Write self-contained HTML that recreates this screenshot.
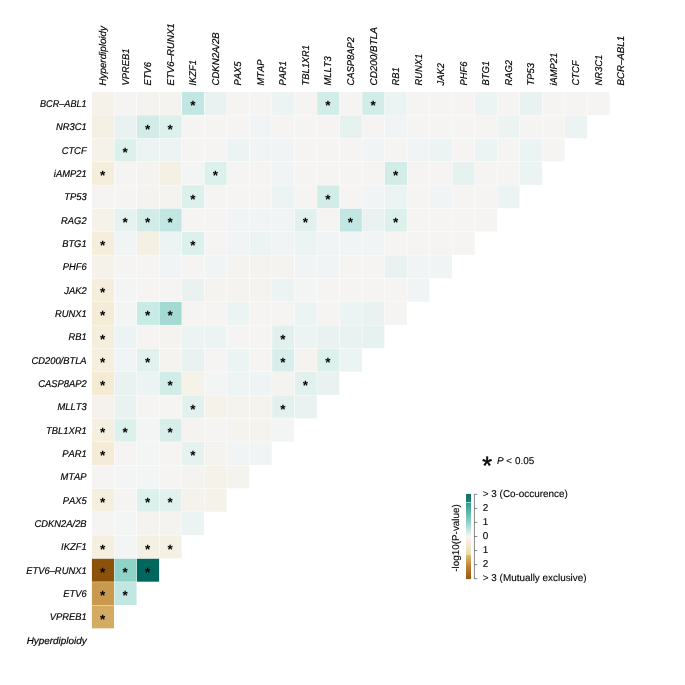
<!DOCTYPE html>
<html lang="en"><head><meta charset="utf-8"><title>Co-occurrence heatmap</title>
<style>html,body{margin:0;padding:0;background:#fff}svg{display:block}text{font-family:"Liberation Sans",Arial,Helvetica,sans-serif;fill:#000;text-rendering:geometricPrecision;font-kerning:none}.g{font-style:italic;font-size:9.8px;stroke:#000;stroke-width:.18px}.s{font-weight:bold;font-size:13.5px;text-anchor:middle}.ls{font-size:25px;text-anchor:middle;stroke:#000;stroke-width:.5px}.l{font-size:9.92px;stroke:#000;stroke-width:.12px}.tx{filter:grayscale(1)}</style></head><body>
<svg width="685" height="685" viewBox="0 0 685 685">
<rect width="685" height="685" fill="#fff"/>
<g>
<rect x="91.91" y="91.96" width="22.11" height="22.92" fill="#f5f2ea"/>
<rect x="114.44" y="91.96" width="22.11" height="22.92" fill="#f5f4f3"/>
<rect x="136.97" y="91.96" width="22.11" height="22.92" fill="#f5f3ef"/>
<rect x="159.50" y="91.96" width="22.11" height="22.92" fill="#f5f3ef"/>
<rect x="182.03" y="91.96" width="22.11" height="22.92" fill="#c2e7e2"/>
<rect x="204.56" y="91.96" width="22.11" height="22.92" fill="#e9f2f1"/>
<rect x="227.09" y="91.96" width="22.11" height="22.92" fill="#f5f4f3"/>
<rect x="249.62" y="91.96" width="22.11" height="22.92" fill="#f5f4f3"/>
<rect x="272.15" y="91.96" width="22.11" height="22.92" fill="#ecf3f3"/>
<rect x="294.68" y="91.96" width="22.11" height="22.92" fill="#f5f4f3"/>
<rect x="317.21" y="91.96" width="22.11" height="22.92" fill="#d2ece8"/>
<rect x="339.74" y="91.96" width="22.11" height="22.92" fill="#f5f4f3"/>
<rect x="362.27" y="91.96" width="22.11" height="22.92" fill="#d2ece8"/>
<rect x="384.80" y="91.96" width="22.11" height="22.92" fill="#ecf3f3"/>
<rect x="407.33" y="91.96" width="22.11" height="22.92" fill="#f5f4f3"/>
<rect x="429.86" y="91.96" width="22.11" height="22.92" fill="#f5f4f3"/>
<rect x="452.39" y="91.96" width="22.11" height="22.92" fill="#f5f4f3"/>
<rect x="474.92" y="91.96" width="22.11" height="22.92" fill="#ecf3f3"/>
<rect x="497.45" y="91.96" width="22.11" height="22.92" fill="#f5f4f3"/>
<rect x="519.98" y="91.96" width="22.11" height="22.92" fill="#e9f2f1"/>
<rect x="542.51" y="91.96" width="22.11" height="22.92" fill="#f5f4f3"/>
<rect x="565.04" y="91.96" width="22.11" height="22.92" fill="#f5f4f3"/>
<rect x="587.57" y="91.96" width="22.11" height="22.92" fill="#f5f4f3"/>
<rect x="91.91" y="115.30" width="22.11" height="22.92" fill="#f5f0e4"/>
<rect x="114.44" y="115.30" width="22.11" height="22.92" fill="#e9f2f1"/>
<rect x="136.97" y="115.30" width="22.11" height="22.92" fill="#d2ece8"/>
<rect x="159.50" y="115.30" width="22.11" height="22.92" fill="#dcf0ec"/>
<rect x="182.03" y="115.30" width="22.11" height="22.92" fill="#f5f4f3"/>
<rect x="204.56" y="115.30" width="22.11" height="22.92" fill="#f5f4f3"/>
<rect x="227.09" y="115.30" width="22.11" height="22.92" fill="#f5f4f3"/>
<rect x="249.62" y="115.30" width="22.11" height="22.92" fill="#f1f4f4"/>
<rect x="272.15" y="115.30" width="22.11" height="22.92" fill="#f5f4f3"/>
<rect x="294.68" y="115.30" width="22.11" height="22.92" fill="#f5f4f3"/>
<rect x="317.21" y="115.30" width="22.11" height="22.92" fill="#f5f4f3"/>
<rect x="339.74" y="115.30" width="22.11" height="22.92" fill="#e6f2f0"/>
<rect x="362.27" y="115.30" width="22.11" height="22.92" fill="#f5f4f3"/>
<rect x="384.80" y="115.30" width="22.11" height="22.92" fill="#f1f4f4"/>
<rect x="407.33" y="115.30" width="22.11" height="22.92" fill="#f5f4f3"/>
<rect x="429.86" y="115.30" width="22.11" height="22.92" fill="#f5f4f3"/>
<rect x="452.39" y="115.30" width="22.11" height="22.92" fill="#f5f4f3"/>
<rect x="474.92" y="115.30" width="22.11" height="22.92" fill="#f5f4f3"/>
<rect x="497.45" y="115.30" width="22.11" height="22.92" fill="#ecf3f3"/>
<rect x="519.98" y="115.30" width="22.11" height="22.92" fill="#f5f4f3"/>
<rect x="542.51" y="115.30" width="22.11" height="22.92" fill="#f5f4f3"/>
<rect x="565.04" y="115.30" width="22.11" height="22.92" fill="#ecf3f3"/>
<rect x="91.91" y="138.64" width="22.11" height="22.92" fill="#f5f2ea"/>
<rect x="114.44" y="138.64" width="22.11" height="22.92" fill="#dcf0ec"/>
<rect x="136.97" y="138.64" width="22.11" height="22.92" fill="#ecf3f3"/>
<rect x="159.50" y="138.64" width="22.11" height="22.92" fill="#ecf3f3"/>
<rect x="182.03" y="138.64" width="22.11" height="22.92" fill="#f5f4f3"/>
<rect x="204.56" y="138.64" width="22.11" height="22.92" fill="#f5f4f3"/>
<rect x="227.09" y="138.64" width="22.11" height="22.92" fill="#ecf3f3"/>
<rect x="249.62" y="138.64" width="22.11" height="22.92" fill="#f1f4f4"/>
<rect x="272.15" y="138.64" width="22.11" height="22.92" fill="#f1f4f4"/>
<rect x="294.68" y="138.64" width="22.11" height="22.92" fill="#f5f4f3"/>
<rect x="317.21" y="138.64" width="22.11" height="22.92" fill="#f5f4f3"/>
<rect x="339.74" y="138.64" width="22.11" height="22.92" fill="#f5f4f3"/>
<rect x="362.27" y="138.64" width="22.11" height="22.92" fill="#f1f4f4"/>
<rect x="384.80" y="138.64" width="22.11" height="22.92" fill="#f5f4f3"/>
<rect x="407.33" y="138.64" width="22.11" height="22.92" fill="#f1f4f4"/>
<rect x="429.86" y="138.64" width="22.11" height="22.92" fill="#ecf3f3"/>
<rect x="452.39" y="138.64" width="22.11" height="22.92" fill="#f5f4f3"/>
<rect x="474.92" y="138.64" width="22.11" height="22.92" fill="#ecf3f3"/>
<rect x="497.45" y="138.64" width="22.11" height="22.92" fill="#f5f4f3"/>
<rect x="519.98" y="138.64" width="22.11" height="22.92" fill="#ecf3f3"/>
<rect x="542.51" y="138.64" width="22.11" height="22.92" fill="#f5f4f3"/>
<rect x="91.91" y="161.98" width="22.11" height="22.92" fill="#f5eedc"/>
<rect x="114.44" y="161.98" width="22.11" height="22.92" fill="#f5f4f3"/>
<rect x="136.97" y="161.98" width="22.11" height="22.92" fill="#f5f3ef"/>
<rect x="159.50" y="161.98" width="22.11" height="22.92" fill="#f5f0e4"/>
<rect x="182.03" y="161.98" width="22.11" height="22.92" fill="#f3f5f4"/>
<rect x="204.56" y="161.98" width="22.11" height="22.92" fill="#dcf0ec"/>
<rect x="227.09" y="161.98" width="22.11" height="22.92" fill="#f5f4f3"/>
<rect x="249.62" y="161.98" width="22.11" height="22.92" fill="#f5f4f3"/>
<rect x="272.15" y="161.98" width="22.11" height="22.92" fill="#f1f4f4"/>
<rect x="294.68" y="161.98" width="22.11" height="22.92" fill="#f5f4f3"/>
<rect x="317.21" y="161.98" width="22.11" height="22.92" fill="#f5f4f3"/>
<rect x="339.74" y="161.98" width="22.11" height="22.92" fill="#f5f4f3"/>
<rect x="362.27" y="161.98" width="22.11" height="22.92" fill="#f5f4f3"/>
<rect x="384.80" y="161.98" width="22.11" height="22.92" fill="#d2ece8"/>
<rect x="407.33" y="161.98" width="22.11" height="22.92" fill="#f5f4f3"/>
<rect x="429.86" y="161.98" width="22.11" height="22.92" fill="#f5f4f3"/>
<rect x="452.39" y="161.98" width="22.11" height="22.92" fill="#e6f2f0"/>
<rect x="474.92" y="161.98" width="22.11" height="22.92" fill="#f5f4f3"/>
<rect x="497.45" y="161.98" width="22.11" height="22.92" fill="#f5f4f3"/>
<rect x="519.98" y="161.98" width="22.11" height="22.92" fill="#ecf3f3"/>
<rect x="91.91" y="185.32" width="22.11" height="22.92" fill="#f5f4f3"/>
<rect x="114.44" y="185.32" width="22.11" height="22.92" fill="#f5f4f3"/>
<rect x="136.97" y="185.32" width="22.11" height="22.92" fill="#f5f3ef"/>
<rect x="159.50" y="185.32" width="22.11" height="22.92" fill="#f5f3ef"/>
<rect x="182.03" y="185.32" width="22.11" height="22.92" fill="#dcf0ec"/>
<rect x="204.56" y="185.32" width="22.11" height="22.92" fill="#f5f4f3"/>
<rect x="227.09" y="185.32" width="22.11" height="22.92" fill="#f5f4f3"/>
<rect x="249.62" y="185.32" width="22.11" height="22.92" fill="#f5f4f3"/>
<rect x="272.15" y="185.32" width="22.11" height="22.92" fill="#ecf3f3"/>
<rect x="294.68" y="185.32" width="22.11" height="22.92" fill="#f5f4f3"/>
<rect x="317.21" y="185.32" width="22.11" height="22.92" fill="#d2ece8"/>
<rect x="339.74" y="185.32" width="22.11" height="22.92" fill="#f5f4f3"/>
<rect x="362.27" y="185.32" width="22.11" height="22.92" fill="#f1f4f4"/>
<rect x="384.80" y="185.32" width="22.11" height="22.92" fill="#ecf3f3"/>
<rect x="407.33" y="185.32" width="22.11" height="22.92" fill="#f5f4f3"/>
<rect x="429.86" y="185.32" width="22.11" height="22.92" fill="#f1f4f4"/>
<rect x="452.39" y="185.32" width="22.11" height="22.92" fill="#f5f4f3"/>
<rect x="474.92" y="185.32" width="22.11" height="22.92" fill="#f5f4f3"/>
<rect x="497.45" y="185.32" width="22.11" height="22.92" fill="#ecf3f3"/>
<rect x="91.91" y="208.66" width="22.11" height="22.92" fill="#f5f2ea"/>
<rect x="114.44" y="208.66" width="22.11" height="22.92" fill="#e6f2f0"/>
<rect x="136.97" y="208.66" width="22.11" height="22.92" fill="#d2ece8"/>
<rect x="159.50" y="208.66" width="22.11" height="22.92" fill="#c2e7e2"/>
<rect x="182.03" y="208.66" width="22.11" height="22.92" fill="#f5f4f3"/>
<rect x="204.56" y="208.66" width="22.11" height="22.92" fill="#f5f4f3"/>
<rect x="227.09" y="208.66" width="22.11" height="22.92" fill="#f1f4f4"/>
<rect x="249.62" y="208.66" width="22.11" height="22.92" fill="#f1f4f4"/>
<rect x="272.15" y="208.66" width="22.11" height="22.92" fill="#f1f4f4"/>
<rect x="294.68" y="208.66" width="22.11" height="22.92" fill="#e2f1ee"/>
<rect x="317.21" y="208.66" width="22.11" height="22.92" fill="#f5f4f3"/>
<rect x="339.74" y="208.66" width="22.11" height="22.92" fill="#c2e7e2"/>
<rect x="362.27" y="208.66" width="22.11" height="22.92" fill="#e9f2f1"/>
<rect x="384.80" y="208.66" width="22.11" height="22.92" fill="#dcf0ec"/>
<rect x="407.33" y="208.66" width="22.11" height="22.92" fill="#f5f4f3"/>
<rect x="429.86" y="208.66" width="22.11" height="22.92" fill="#f5f4f3"/>
<rect x="452.39" y="208.66" width="22.11" height="22.92" fill="#f5f4f3"/>
<rect x="474.92" y="208.66" width="22.11" height="22.92" fill="#f5f4f3"/>
<rect x="91.91" y="232.00" width="22.11" height="22.92" fill="#f5eedc"/>
<rect x="114.44" y="232.00" width="22.11" height="22.92" fill="#f1f4f4"/>
<rect x="136.97" y="232.00" width="22.11" height="22.92" fill="#f5f0e4"/>
<rect x="159.50" y="232.00" width="22.11" height="22.92" fill="#ecf3f3"/>
<rect x="182.03" y="232.00" width="22.11" height="22.92" fill="#dcf0ec"/>
<rect x="204.56" y="232.00" width="22.11" height="22.92" fill="#f5f4f3"/>
<rect x="227.09" y="232.00" width="22.11" height="22.92" fill="#f1f4f4"/>
<rect x="249.62" y="232.00" width="22.11" height="22.92" fill="#ecf3f3"/>
<rect x="272.15" y="232.00" width="22.11" height="22.92" fill="#f1f4f4"/>
<rect x="294.68" y="232.00" width="22.11" height="22.92" fill="#ecf3f3"/>
<rect x="317.21" y="232.00" width="22.11" height="22.92" fill="#f1f4f4"/>
<rect x="339.74" y="232.00" width="22.11" height="22.92" fill="#f1f4f4"/>
<rect x="362.27" y="232.00" width="22.11" height="22.92" fill="#f1f4f4"/>
<rect x="384.80" y="232.00" width="22.11" height="22.92" fill="#f5f4f3"/>
<rect x="407.33" y="232.00" width="22.11" height="22.92" fill="#f5f4f3"/>
<rect x="429.86" y="232.00" width="22.11" height="22.92" fill="#f5f4f3"/>
<rect x="452.39" y="232.00" width="22.11" height="22.92" fill="#f5f4f3"/>
<rect x="91.91" y="255.34" width="22.11" height="22.92" fill="#f5f2ea"/>
<rect x="114.44" y="255.34" width="22.11" height="22.92" fill="#f5f4f3"/>
<rect x="136.97" y="255.34" width="22.11" height="22.92" fill="#f5f4f3"/>
<rect x="159.50" y="255.34" width="22.11" height="22.92" fill="#f1f4f4"/>
<rect x="182.03" y="255.34" width="22.11" height="22.92" fill="#f5f4f3"/>
<rect x="204.56" y="255.34" width="22.11" height="22.92" fill="#f1f4f4"/>
<rect x="227.09" y="255.34" width="22.11" height="22.92" fill="#f5f3ef"/>
<rect x="249.62" y="255.34" width="22.11" height="22.92" fill="#f5f3ef"/>
<rect x="272.15" y="255.34" width="22.11" height="22.92" fill="#f5f3ef"/>
<rect x="294.68" y="255.34" width="22.11" height="22.92" fill="#f1f4f4"/>
<rect x="317.21" y="255.34" width="22.11" height="22.92" fill="#f1f4f4"/>
<rect x="339.74" y="255.34" width="22.11" height="22.92" fill="#f5f4f3"/>
<rect x="362.27" y="255.34" width="22.11" height="22.92" fill="#f5f4f3"/>
<rect x="384.80" y="255.34" width="22.11" height="22.92" fill="#e9f2f1"/>
<rect x="407.33" y="255.34" width="22.11" height="22.92" fill="#f1f4f4"/>
<rect x="429.86" y="255.34" width="22.11" height="22.92" fill="#f1f4f4"/>
<rect x="91.91" y="278.68" width="22.11" height="22.92" fill="#f5eedc"/>
<rect x="114.44" y="278.68" width="22.11" height="22.92" fill="#f3f5f4"/>
<rect x="136.97" y="278.68" width="22.11" height="22.92" fill="#f5f4f3"/>
<rect x="159.50" y="278.68" width="22.11" height="22.92" fill="#f5f4f3"/>
<rect x="182.03" y="278.68" width="22.11" height="22.92" fill="#e9f2f1"/>
<rect x="204.56" y="278.68" width="22.11" height="22.92" fill="#f5f3ef"/>
<rect x="227.09" y="278.68" width="22.11" height="22.92" fill="#f5f3ef"/>
<rect x="249.62" y="278.68" width="22.11" height="22.92" fill="#f5f3ef"/>
<rect x="272.15" y="278.68" width="22.11" height="22.92" fill="#ecf3f3"/>
<rect x="294.68" y="278.68" width="22.11" height="22.92" fill="#f3f5f4"/>
<rect x="317.21" y="278.68" width="22.11" height="22.92" fill="#f5f4f3"/>
<rect x="339.74" y="278.68" width="22.11" height="22.92" fill="#f5f4f3"/>
<rect x="362.27" y="278.68" width="22.11" height="22.92" fill="#f5f4f3"/>
<rect x="384.80" y="278.68" width="22.11" height="22.92" fill="#f5f4f3"/>
<rect x="407.33" y="278.68" width="22.11" height="22.92" fill="#f1f4f4"/>
<rect x="91.91" y="302.02" width="22.11" height="22.92" fill="#f5ecd8"/>
<rect x="114.44" y="302.02" width="22.11" height="22.92" fill="#f3f5f4"/>
<rect x="136.97" y="302.02" width="22.11" height="22.92" fill="#c9ebe5"/>
<rect x="159.50" y="302.02" width="22.11" height="22.92" fill="#a3dbd2"/>
<rect x="182.03" y="302.02" width="22.11" height="22.92" fill="#f5f4f3"/>
<rect x="204.56" y="302.02" width="22.11" height="22.92" fill="#f5f4f3"/>
<rect x="227.09" y="302.02" width="22.11" height="22.92" fill="#ecf3f3"/>
<rect x="249.62" y="302.02" width="22.11" height="22.92" fill="#f5f4f3"/>
<rect x="272.15" y="302.02" width="22.11" height="22.92" fill="#f5f4f3"/>
<rect x="294.68" y="302.02" width="22.11" height="22.92" fill="#ecf3f3"/>
<rect x="317.21" y="302.02" width="22.11" height="22.92" fill="#f5f4f3"/>
<rect x="339.74" y="302.02" width="22.11" height="22.92" fill="#ecf3f3"/>
<rect x="362.27" y="302.02" width="22.11" height="22.92" fill="#e9f2f1"/>
<rect x="384.80" y="302.02" width="22.11" height="22.92" fill="#f5f4f3"/>
<rect x="91.91" y="325.36" width="22.11" height="22.92" fill="#f5eedc"/>
<rect x="114.44" y="325.36" width="22.11" height="22.92" fill="#ecf3f3"/>
<rect x="136.97" y="325.36" width="22.11" height="22.92" fill="#f5f4f3"/>
<rect x="159.50" y="325.36" width="22.11" height="22.92" fill="#f5f3ef"/>
<rect x="182.03" y="325.36" width="22.11" height="22.92" fill="#ecf3f3"/>
<rect x="204.56" y="325.36" width="22.11" height="22.92" fill="#ecf3f3"/>
<rect x="227.09" y="325.36" width="22.11" height="22.92" fill="#f5f4f3"/>
<rect x="249.62" y="325.36" width="22.11" height="22.92" fill="#f5f4f3"/>
<rect x="272.15" y="325.36" width="22.11" height="22.92" fill="#e2f1ee"/>
<rect x="294.68" y="325.36" width="22.11" height="22.92" fill="#ecf3f3"/>
<rect x="317.21" y="325.36" width="22.11" height="22.92" fill="#e9f2f1"/>
<rect x="339.74" y="325.36" width="22.11" height="22.92" fill="#e9f2f1"/>
<rect x="362.27" y="325.36" width="22.11" height="22.92" fill="#e6f2f0"/>
<rect x="91.91" y="348.70" width="22.11" height="22.92" fill="#f5efdf"/>
<rect x="114.44" y="348.70" width="22.11" height="22.92" fill="#f1f4f4"/>
<rect x="136.97" y="348.70" width="22.11" height="22.92" fill="#e2f1ee"/>
<rect x="159.50" y="348.70" width="22.11" height="22.92" fill="#f5f3ef"/>
<rect x="182.03" y="348.70" width="22.11" height="22.92" fill="#e9f2f1"/>
<rect x="204.56" y="348.70" width="22.11" height="22.92" fill="#f5f4f3"/>
<rect x="227.09" y="348.70" width="22.11" height="22.92" fill="#ecf3f3"/>
<rect x="249.62" y="348.70" width="22.11" height="22.92" fill="#f5f4f3"/>
<rect x="272.15" y="348.70" width="22.11" height="22.92" fill="#d8eeeb"/>
<rect x="294.68" y="348.70" width="22.11" height="22.92" fill="#f5f3ef"/>
<rect x="317.21" y="348.70" width="22.11" height="22.92" fill="#dcf0ec"/>
<rect x="339.74" y="348.70" width="22.11" height="22.92" fill="#ecf3f3"/>
<rect x="91.91" y="372.04" width="22.11" height="22.92" fill="#f5ebd2"/>
<rect x="114.44" y="372.04" width="22.11" height="22.92" fill="#e9f2f1"/>
<rect x="136.97" y="372.04" width="22.11" height="22.92" fill="#ecf3f3"/>
<rect x="159.50" y="372.04" width="22.11" height="22.92" fill="#d2ece8"/>
<rect x="182.03" y="372.04" width="22.11" height="22.92" fill="#f5f2ea"/>
<rect x="204.56" y="372.04" width="22.11" height="22.92" fill="#f3f5f4"/>
<rect x="227.09" y="372.04" width="22.11" height="22.92" fill="#eef4f3"/>
<rect x="249.62" y="372.04" width="22.11" height="22.92" fill="#eef4f3"/>
<rect x="272.15" y="372.04" width="22.11" height="22.92" fill="#f5f3ef"/>
<rect x="294.68" y="372.04" width="22.11" height="22.92" fill="#e2f1ee"/>
<rect x="317.21" y="372.04" width="22.11" height="22.92" fill="#e9f2f1"/>
<rect x="91.91" y="395.38" width="22.11" height="22.92" fill="#f5f1ec"/>
<rect x="114.44" y="395.38" width="22.11" height="22.92" fill="#e9f2f1"/>
<rect x="136.97" y="395.38" width="22.11" height="22.92" fill="#f5f4f3"/>
<rect x="159.50" y="395.38" width="22.11" height="22.92" fill="#f5f4f3"/>
<rect x="182.03" y="395.38" width="22.11" height="22.92" fill="#e2f1ee"/>
<rect x="204.56" y="395.38" width="22.11" height="22.92" fill="#f5f2ea"/>
<rect x="227.09" y="395.38" width="22.11" height="22.92" fill="#f5f3ee"/>
<rect x="249.62" y="395.38" width="22.11" height="22.92" fill="#f5f3ee"/>
<rect x="272.15" y="395.38" width="22.11" height="22.92" fill="#e2f1ee"/>
<rect x="294.68" y="395.38" width="22.11" height="22.92" fill="#e9f2f1"/>
<rect x="91.91" y="418.72" width="22.11" height="22.92" fill="#f5efdf"/>
<rect x="114.44" y="418.72" width="22.11" height="22.92" fill="#dcf0ec"/>
<rect x="136.97" y="418.72" width="22.11" height="22.92" fill="#f3f5f4"/>
<rect x="159.50" y="418.72" width="22.11" height="22.92" fill="#d8eeeb"/>
<rect x="182.03" y="418.72" width="22.11" height="22.92" fill="#f5f3ef"/>
<rect x="204.56" y="418.72" width="22.11" height="22.92" fill="#f5f4f3"/>
<rect x="227.09" y="418.72" width="22.11" height="22.92" fill="#f5f3ee"/>
<rect x="249.62" y="418.72" width="22.11" height="22.92" fill="#f5f3ee"/>
<rect x="272.15" y="418.72" width="22.11" height="22.92" fill="#f3f5f4"/>
<rect x="91.91" y="442.06" width="22.11" height="22.92" fill="#f5ecd8"/>
<rect x="114.44" y="442.06" width="22.11" height="22.92" fill="#f5f4f3"/>
<rect x="136.97" y="442.06" width="22.11" height="22.92" fill="#f3f5f4"/>
<rect x="159.50" y="442.06" width="22.11" height="22.92" fill="#f5f4f3"/>
<rect x="182.03" y="442.06" width="22.11" height="22.92" fill="#e6f2f0"/>
<rect x="204.56" y="442.06" width="22.11" height="22.92" fill="#f5f3ef"/>
<rect x="227.09" y="442.06" width="22.11" height="22.92" fill="#f1f4f4"/>
<rect x="249.62" y="442.06" width="22.11" height="22.92" fill="#f1f4f4"/>
<rect x="91.91" y="465.40" width="22.11" height="22.92" fill="#f5f4f3"/>
<rect x="114.44" y="465.40" width="22.11" height="22.92" fill="#f3f5f4"/>
<rect x="136.97" y="465.40" width="22.11" height="22.92" fill="#f3f5f4"/>
<rect x="159.50" y="465.40" width="22.11" height="22.92" fill="#f5f4f3"/>
<rect x="182.03" y="465.40" width="22.11" height="22.92" fill="#f5f3ef"/>
<rect x="204.56" y="465.40" width="22.11" height="22.92" fill="#f5f2ea"/>
<rect x="227.09" y="465.40" width="22.11" height="22.92" fill="#f5f3ee"/>
<rect x="91.91" y="488.74" width="22.11" height="22.92" fill="#f5efdf"/>
<rect x="114.44" y="488.74" width="22.11" height="22.92" fill="#f5f4f3"/>
<rect x="136.97" y="488.74" width="22.11" height="22.92" fill="#dcf0ec"/>
<rect x="159.50" y="488.74" width="22.11" height="22.92" fill="#e2f1ee"/>
<rect x="182.03" y="488.74" width="22.11" height="22.92" fill="#f5f1ec"/>
<rect x="204.56" y="488.74" width="22.11" height="22.92" fill="#f5f2ea"/>
<rect x="91.91" y="512.08" width="22.11" height="22.92" fill="#f5f4f3"/>
<rect x="114.44" y="512.08" width="22.11" height="22.92" fill="#f3f5f4"/>
<rect x="136.97" y="512.08" width="22.11" height="22.92" fill="#f5f3ef"/>
<rect x="159.50" y="512.08" width="22.11" height="22.92" fill="#f5f3ef"/>
<rect x="182.03" y="512.08" width="22.11" height="22.92" fill="#ecf3f3"/>
<rect x="91.91" y="535.42" width="22.11" height="22.92" fill="#f5efdf"/>
<rect x="114.44" y="535.42" width="22.11" height="22.92" fill="#f3f5f4"/>
<rect x="136.97" y="535.42" width="22.11" height="22.92" fill="#f5f0e4"/>
<rect x="159.50" y="535.42" width="22.11" height="22.92" fill="#f5f0e4"/>
<rect x="91.91" y="558.76" width="22.11" height="22.92" fill="#8c510a"/>
<rect x="114.44" y="558.76" width="22.11" height="22.92" fill="#8fd3c8"/>
<rect x="136.97" y="558.76" width="22.11" height="22.92" fill="#01665e"/>
<rect x="91.91" y="582.10" width="22.11" height="22.92" fill="#c99a4e"/>
<rect x="114.44" y="582.10" width="22.11" height="22.92" fill="#c2e7e2"/>
<rect x="91.91" y="605.44" width="22.11" height="22.92" fill="#d4ab62"/>
<defs><linearGradient id="cb" x1="0" y1="0" x2="0" y2="1"><stop offset="0" stop-color="#116f65"/><stop offset="0.094" stop-color="#1d8075"/><stop offset="0.094" stop-color="#9ad6cc"/><stop offset="0.102" stop-color="#9ad6cc"/><stop offset="0.102" stop-color="#2c9a8c"/><stop offset="0.33" stop-color="#8fd1c6"/><stop offset="0.5" stop-color="#f7f6f4"/><stop offset="0.712" stop-color="#ecd9a6"/><stop offset="0.712" stop-color="#dfc07c"/><stop offset="0.85" stop-color="#bf832f"/><stop offset="1" stop-color="#935911"/></linearGradient></defs>
<rect x="466" y="493.9" width="5" height="85.2" fill="url(#cb)"/>
<path d="M477.3 494.3H474.4V578.7H477.3M474.4 508.4H477.3M474.4 522.4H477.3M474.4 536.5H477.3M474.4 550.6H477.3M474.4 564.6H477.3" fill="none" stroke="#333" stroke-width="0.6"/>
</g>
<g class="tx">
<text class="s" x="192.78" y="110.27">*</text>
<text class="s" x="327.96" y="110.27">*</text>
<text class="s" x="373.02" y="110.27">*</text>
<text class="s" x="147.72" y="133.61">*</text>
<text class="s" x="170.25" y="133.61">*</text>
<text class="s" x="125.20" y="156.95">*</text>
<text class="s" x="102.67" y="180.29">*</text>
<text class="s" x="215.31" y="180.29">*</text>
<text class="s" x="395.55" y="180.29">*</text>
<text class="s" x="192.78" y="203.63">*</text>
<text class="s" x="327.96" y="203.63">*</text>
<text class="s" x="125.20" y="226.97">*</text>
<text class="s" x="147.72" y="226.97">*</text>
<text class="s" x="170.25" y="226.97">*</text>
<text class="s" x="305.44" y="226.97">*</text>
<text class="s" x="350.50" y="226.97">*</text>
<text class="s" x="395.55" y="226.97">*</text>
<text class="s" x="102.67" y="250.31">*</text>
<text class="s" x="192.78" y="250.31">*</text>
<text class="s" x="102.67" y="296.99">*</text>
<text class="s" x="102.67" y="320.33">*</text>
<text class="s" x="147.72" y="320.33">*</text>
<text class="s" x="170.25" y="320.33">*</text>
<text class="s" x="102.67" y="343.67">*</text>
<text class="s" x="282.90" y="343.67">*</text>
<text class="s" x="102.67" y="367.01">*</text>
<text class="s" x="147.72" y="367.01">*</text>
<text class="s" x="282.90" y="367.01">*</text>
<text class="s" x="327.96" y="367.01">*</text>
<text class="s" x="102.67" y="390.35">*</text>
<text class="s" x="170.25" y="390.35">*</text>
<text class="s" x="305.44" y="390.35">*</text>
<text class="s" x="192.78" y="413.69">*</text>
<text class="s" x="282.90" y="413.69">*</text>
<text class="s" x="102.67" y="437.03">*</text>
<text class="s" x="125.20" y="437.03">*</text>
<text class="s" x="170.25" y="437.03">*</text>
<text class="s" x="102.67" y="460.37">*</text>
<text class="s" x="192.78" y="460.37">*</text>
<text class="s" x="102.67" y="507.05">*</text>
<text class="s" x="147.72" y="507.05">*</text>
<text class="s" x="170.25" y="507.05">*</text>
<text class="s" x="102.67" y="553.73">*</text>
<text class="s" x="147.72" y="553.73">*</text>
<text class="s" x="170.25" y="553.73">*</text>
<text class="s" x="102.67" y="577.07">*</text>
<text class="s" x="125.20" y="577.07">*</text>
<text class="s" x="147.72" y="577.07">*</text>
<text class="s" x="102.67" y="600.41">*</text>
<text class="s" x="125.20" y="600.41">*</text>
<text class="s" x="102.67" y="623.75">*</text>
<text class="g" text-anchor="end" transform="translate(86.6,106.92) scale(0.93,1)">BCR–ABL1</text>
<text class="g" text-anchor="end" transform="translate(86.6,130.26) scale(0.955,1)">NR3C1</text>
<text class="g" text-anchor="end" transform="translate(86.6,153.60) scale(0.955,1)">CTCF</text>
<text class="g" text-anchor="end" transform="translate(86.6,176.94) scale(0.955,1)">iAMP21</text>
<text class="g" text-anchor="end" transform="translate(86.6,200.28) scale(0.955,1)">TP53</text>
<text class="g" text-anchor="end" transform="translate(86.6,223.62) scale(0.955,1)">RAG2</text>
<text class="g" text-anchor="end" transform="translate(86.6,246.96) scale(0.955,1)">BTG1</text>
<text class="g" text-anchor="end" transform="translate(86.6,270.30) scale(0.955,1)">PHF6</text>
<text class="g" text-anchor="end" transform="translate(86.6,293.64) scale(0.955,1)">JAK2</text>
<text class="g" text-anchor="end" transform="translate(86.6,316.98) scale(0.955,1)">RUNX1</text>
<text class="g" text-anchor="end" transform="translate(86.6,340.32) scale(0.955,1)">RB1</text>
<text class="g" text-anchor="end" transform="translate(86.6,363.66) scale(0.955,1)">CD200/BTLA</text>
<text class="g" text-anchor="end" transform="translate(86.6,387.00) scale(0.955,1)">CASP8AP2</text>
<text class="g" text-anchor="end" transform="translate(86.6,410.34) scale(0.955,1)">MLLT3</text>
<text class="g" text-anchor="end" transform="translate(86.6,433.68) scale(0.955,1)">TBL1XR1</text>
<text class="g" text-anchor="end" transform="translate(86.6,457.02) scale(0.955,1)">PAR1</text>
<text class="g" text-anchor="end" transform="translate(86.6,480.36) scale(0.955,1)">MTAP</text>
<text class="g" text-anchor="end" transform="translate(86.6,503.70) scale(0.955,1)">PAX5</text>
<text class="g" text-anchor="end" transform="translate(86.6,527.04) scale(0.955,1)">CDKN2A/2B</text>
<text class="g" text-anchor="end" transform="translate(86.6,550.38) scale(0.955,1)">IKZF1</text>
<text class="g" text-anchor="end" transform="translate(86.6,573.72) scale(0.955,1)">ETV6–RUNX1</text>
<text class="g" text-anchor="end" transform="translate(86.6,597.06) scale(0.955,1)">ETV6</text>
<text class="g" text-anchor="end" transform="translate(86.6,620.40) scale(0.955,1)">VPREB1</text>
<text class="g" text-anchor="end" transform="translate(86.6,643.74) scale(1.01,1)">Hyperdiploidy</text>
<text class="g" transform="translate(106.17,85.5) rotate(-90) scale(1.0,1)">Hyperdiploidy</text>
<text class="g" transform="translate(128.69,85.5) rotate(-90) scale(0.955,1)">VPREB1</text>
<text class="g" transform="translate(151.22,85.5) rotate(-90) scale(0.955,1)">ETV6</text>
<text class="g" transform="translate(173.75,85.5) rotate(-90) scale(0.985,1)">ETV6–RUNX1</text>
<text class="g" transform="translate(196.28,85.5) rotate(-90) scale(0.955,1)">IKZF1</text>
<text class="g" transform="translate(218.81,85.5) rotate(-90) scale(0.978,1)">CDKN2A/2B</text>
<text class="g" transform="translate(241.34,85.5) rotate(-90) scale(0.955,1)">PAX5</text>
<text class="g" transform="translate(263.88,85.5) rotate(-90) scale(0.955,1)">MTAP</text>
<text class="g" transform="translate(286.40,85.5) rotate(-90) scale(0.955,1)">PAR1</text>
<text class="g" transform="translate(308.94,85.5) rotate(-90) scale(0.955,1)">TBL1XR1</text>
<text class="g" transform="translate(331.46,85.5) rotate(-90) scale(0.955,1)">MLLT3</text>
<text class="g" transform="translate(354.00,85.5) rotate(-90) scale(0.955,1)">CASP8AP2</text>
<text class="g" transform="translate(376.52,85.5) rotate(-90) scale(1.01,1)">CD200/BTLA</text>
<text class="g" transform="translate(399.05,85.5) rotate(-90) scale(0.955,1)">RB1</text>
<text class="g" transform="translate(421.58,85.5) rotate(-90) scale(0.955,1)">RUNX1</text>
<text class="g" transform="translate(444.12,85.5) rotate(-90) scale(0.955,1)">JAK2</text>
<text class="g" transform="translate(466.64,85.5) rotate(-90) scale(0.955,1)">PHF6</text>
<text class="g" transform="translate(489.17,85.5) rotate(-90) scale(0.955,1)">BTG1</text>
<text class="g" transform="translate(511.70,85.5) rotate(-90) scale(0.955,1)">RAG2</text>
<text class="g" transform="translate(534.24,85.5) rotate(-90) scale(0.955,1)">TP53</text>
<text class="g" transform="translate(556.77,85.5) rotate(-90) scale(0.955,1)">iAMP21</text>
<text class="g" transform="translate(579.30,85.5) rotate(-90) scale(0.955,1)">CTCF</text>
<text class="g" transform="translate(601.83,85.5) rotate(-90) scale(0.955,1)">NR3C1</text>
<text class="g" transform="translate(624.36,85.5) rotate(-90) scale(0.99,1)">BCR–ABL1</text>
<text class="ls" x="487.0" y="473.5">*</text>
<text class="l" x="497" y="464"><tspan font-style="italic">P</tspan> &lt; 0.05</text>
<text class="l" x="482.8" y="496.90">&gt; 3 (Co-occurence)</text>
<text class="l" x="482.8" y="510.97">2</text>
<text class="l" x="482.8" y="525.04">1</text>
<text class="l" x="482.8" y="539.11">0</text>
<text class="l" x="482.8" y="553.18">1</text>
<text class="l" x="482.8" y="567.25">2</text>
<text class="l" x="482.8" y="581.32">&gt; 3 (Mutually exclusive)</text>
<text class="l" text-anchor="middle" transform="translate(459.3,538) rotate(-90)">-log10(P-value)</text>
</g>
</svg></body></html>
